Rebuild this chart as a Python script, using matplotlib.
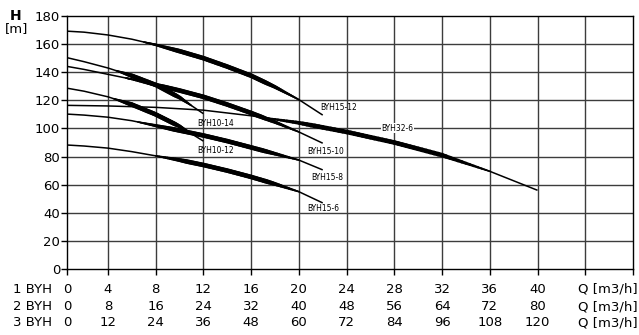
import numpy as np
import matplotlib
matplotlib.use("Agg")
import matplotlib.pyplot as plt
from matplotlib.transforms import blended_transform_factory
from matplotlib.collections import LineCollection

# ---- data (Q in 1-BYH m3/h units, H in m) ----
q_15_12 = [0, 2, 4, 6, 8, 10, 12, 14, 16, 18, 20, 22]
h_15_12 = [169.5, 168.5, 166.5, 163.5, 159.5, 155, 150, 144, 137.5, 129.5, 120.5, 109.5]

q_10_14 = [0, 2, 4, 6, 8, 10, 12]
h_10_14 = [151.5, 147.5, 143, 137.5, 131, 122, 110.5]

q_15_10 = [0, 2, 4, 6, 8, 10, 12, 14, 16, 18, 20, 22]
h_15_10 = [145, 142, 138.5, 135, 131, 127, 122.5, 117, 111, 104.5, 97.5, 89.5]

q_10_12 = [0, 2, 4, 6, 8, 10, 12]
h_10_12 = [129.5, 126.5, 122.5, 117, 110, 101.5, 91]

q_32_6 = [0, 4, 8, 12, 16, 20, 24, 28, 32, 36, 40]
h_32_6 = [116.5, 116, 115, 113, 109, 104, 97.5, 90, 81, 69.5, 56]

q_15_8 = [0, 2, 4, 6, 8, 10, 12, 14, 16, 18, 20, 22]
h_15_8 = [110.5, 109.5, 108, 105.5, 102, 98.5, 95, 91, 86.5, 82, 77.5, 70.5]

q_15_6 = [0, 2, 4, 6, 8, 10, 12, 14, 16, 18, 20, 22]
h_15_6 = [88.5, 87.5, 86, 83.5, 80.5, 77.5, 74, 70, 65.5, 60.5, 55, 47]

names = ["BYH15-12", "BYH10-14", "BYH15-10", "BYH10-12", "BYH32-6", "BYH15-8", "BYH15-6"]
thick_ranges = [(7, 20), (4.7, 11), (5.5, 20), (4.5, 11), (17, 36), (6.5, 20), (8, 20)]
label_pos = [(21.8, 114.9), (11.45, 103.7), (20.7, 83.5), (11.45, 84.2),
             (26.9, 100.1), (21.0, 65.0), (20.7, 42.7)]

row1 = [0, 4, 8, 12, 16, 20, 24, 28, 32, 36, 40]
row2 = [0, 8, 16, 24, 32, 40, 48, 56, 64, 72, 80]
row3 = [0, 12, 24, 36, 48, 60, 72, 84, 96, 108, 120]
row_names = ["1 BYH", "2 BYH", "3 BYH"]
y_ticks = [0, 20, 40, 60, 80, 100, 120, 140, 160, 180]

series = [(q_15_12, h_15_12), (q_10_14, h_10_14), (q_15_10, h_15_10), (q_10_12, h_10_12),
          (q_32_6, h_32_6), (q_15_8, h_15_8), (q_15_6, h_15_6)]

plt.rcParams['font.family'] = ['DejaVu Sans']

fig = plt.figure(figsize=(6.39, 3.35), dpi=100)
ax = fig.add_axes([67/639, 1-269/335, (633-67)/639, (269-16)/335])

x0 = 0.57
ax.set_xlim(x0, 48)
ax.set_ylim(0, 180)

grid_c = '#3c3c3c'
for xv in [4, 8, 12, 16, 20, 24, 28, 32, 36, 40, 44]:
    ax.axvline(xv, color=grid_c, lw=1.0, zorder=1)
for yv in y_ticks[1:-1]:
    ax.axhline(yv, color=grid_c, lw=1.0, zorder=1)

thin, thick = 1.1, 3.3
for (q, h), (t0, t1) in zip(series, thick_ranges):
    q = np.array(q, float); h = np.array(h, float)
    ax.plot(q, h, color='black', lw=thin, zorder=3, solid_capstyle='butt')
    # densify the straight polyline segments inside the operating range (same shape)
    m = (q > t0) & (q < t1)
    qk = np.concatenate([[t0], q[m], [t1]])
    hk = np.concatenate([[np.interp(t0, q, h)], h[m], [np.interp(t1, q, h)]])
    qs, hs = [], []
    for i in range(len(qk) - 1):
        s = np.linspace(0, 1, 12, endpoint=False)
        qs.append(qk[i] + s * (qk[i+1] - qk[i]))
        hs.append(hk[i] + s * (hk[i+1] - hk[i]))
    qs.append([qk[-1]]); hs.append([hk[-1]])
    qs = np.concatenate(qs); hs = np.concatenate(hs)
    pts = np.column_stack([qs, hs])
    segs = np.stack([pts[:-1], pts[1:]], axis=1)
    tm = ((qs[:-1] + qs[1:]) / 2 - t0) / (t1 - t0)
    ramp = 0.22
    w = thin + (thick - thin) * np.clip(np.minimum(tm / ramp, (1 - tm) / ramp), 0, 1)
    lc = LineCollection(segs, linewidths=w, colors='black', capstyle='round', zorder=4)
    ax.add_collection(lc)

for name, (lx, ly) in zip(names, label_pos):
    kw = dict(fontsize=6, va='center', ha='left', zorder=5, fontstretch='condensed')
    if name == "BYH32-6":
        kw['bbox'] = dict(facecolor='white', edgecolor='none', pad=0.5)
    ax.text(lx, ly, name, **kw)

for s in ['top', 'right', 'left', 'bottom']:
    ax.spines[s].set_color('black')
    ax.spines[s].set_linewidth(1.0)

ax.set_yticks(y_ticks)
ax.set_yticklabels([str(v) for v in y_ticks], fontsize=9.5)
ax.tick_params(axis='y', direction='out', length=4, width=1, pad=1)
xt = [x0] + list(range(4, 49, 4))
ax.set_xticks(xt)
ax.set_xticklabels([])
ax.tick_params(axis='x', direction='out', length=4, width=1)

trans = blended_transform_factory(ax.transData, fig.transFigure)
row_y = [1-289.5/335, 1-306.5/335, 1-322.5/335]
for rname, vals, yy in zip(row_names, [row1, row2, row3], row_y):
    fig.text(52/639, yy, rname, ha='right', va='center', fontsize=9.5)
    for i, v in enumerate(vals):
        xp = x0 if i == 0 else row1[i]
        ax.text(xp, yy, str(v), transform=trans, ha='center', va='center', fontsize=9.5)
    fig.text(638/639, yy, "Q [m3/h]", ha='right', va='center', fontsize=9.5)

fig.text(15.5/639, 1-16/335, "H", ha='center', va='center', fontsize=10, fontweight='bold')
fig.text(17/639, 1-29/335, "[m]", ha='center', va='center', fontsize=9.5)

fig.savefig("out.png", dpi=100)
